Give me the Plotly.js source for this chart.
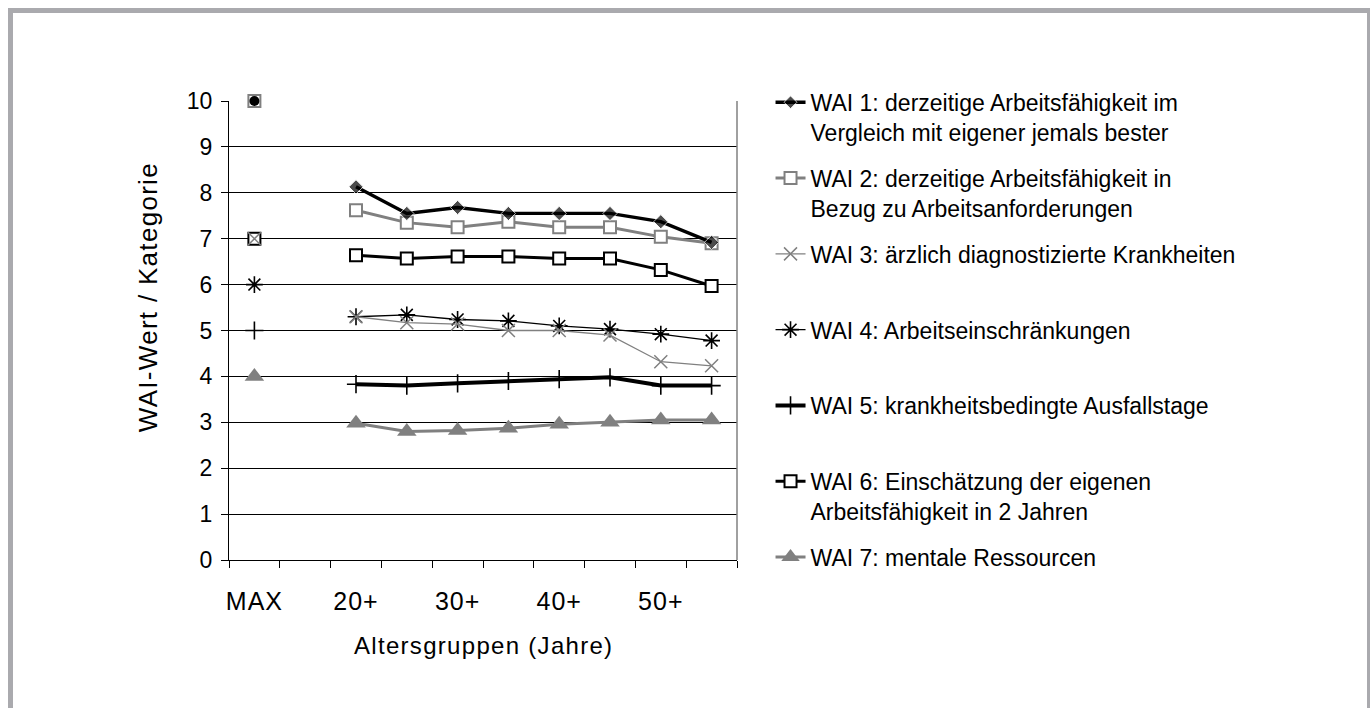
<!DOCTYPE html>
<html>
<head>
<meta charset="utf-8">
<script src="https://cdn.plot.ly/plotly-3.0.1.min.js"></script>
<style>
html,body{margin:0;padding:0;background:#fff;overflow:hidden;}
#chart{width:1370px;height:708px;position:absolute;left:0;top:0;}
#frame{position:absolute;left:8px;top:8px;width:1354px;height:720px;border:5px solid #aaaaae;pointer-events:none;}
.annotation-text{letter-spacing:1.3px;}
.xtick text{letter-spacing:1px;}
</style>
</head>
<body>
<div id="chart"></div>
<div id="frame"></div>
<script>
// Category slots of the x axis (Excel-style, every second label shown)
const categories = ['MAX', '', '20+', '', '30+', '', '40+', '', '50+', ''];

const seriesNames = [
  'WAI 1: derzeitige Arbeitsfähigkeit im<br>Vergleich mit eigener jemals bester',
  'WAI 2: derzeitige Arbeitsfähigkeit in<br>Bezug zu Arbeitsanforderungen',
  'WAI 3: ärzlich diagnostizierte Krankheiten',
  'WAI 4: Arbeitseinschränkungen',
  'WAI 5: krankheitsbedingte Ausfallstage',
  'WAI 6: Einschätzung der eigenen<br>Arbeitsfähigkeit in 2 Jahren',
  'WAI 7: mentale Ressourcen'
];

const wai1 = [10, null, 8.13, 7.55, 7.68, 7.55, 7.55, 7.55, 7.37, 6.92];
const wai2 = [10, null, 7.62, 7.35, 7.25, 7.37, 7.25, 7.25, 7.04, 6.90];
const wai3 = [7,  null, 5.30, 5.17, 5.14, 5.00, 5.00, 4.90, 4.32, 4.23];
const wai4 = [6,  null, 5.30, 5.34, 5.24, 5.21, 5.10, 5.03, 4.92, 4.78];
const wai5 = [5,  null, 3.83, 3.80, 3.85, 3.90, 3.94, 3.98, 3.80, 3.80];
const wai6 = [7,  null, 6.64, 6.57, 6.61, 6.61, 6.57, 6.57, 6.32, 5.97];
const wai7 = [4,  null, 2.98, 2.80, 2.82, 2.87, 2.96, 3.00, 3.05, 3.05];

const xs = categories.map((c, i) => i + 1);
const GREY = '#808080';
const FONT = '"Liberation Sans", Arial, sans-serif';

function legendName(n) {
  return n.indexOf('<br>') >= 0 ? n : n + '<br>\u00a0';
}

function mk(idx, y, line, marker) {
  return {
    type: 'scatter', mode: 'lines+markers', x: xs, y: y,
    name: legendName(seriesNames[idx]), legendgroup: 'g' + idx, legendrank: idx + 1,
    connectgaps: false, cliponaxis: false,
    line: line, marker: marker
  };
}

const sizes1 = wai1.map((v, i) => i === 0 ? 0 : 11);

const t1 = mk(0, wai1, {color: '#000', width: 3.3},
  {symbol: 'diamond', size: sizes1, color: '#000'});
const t2 = mk(1, wai2, {color: GREY, width: 3},
  {symbol: 'square', size: 12, color: '#fff', line: {color: GREY, width: 2}});
const t3 = mk(2, wai3, {color: GREY, width: 1.3},
  {symbol: 'x-thin-open', size: 13, color: GREY, line: {color: GREY, width: 1.5}});
const t4 = mk(3, wai4, {color: '#000', width: 1.3},
  {symbol: 'asterisk-open', size: 14, color: '#000', line: {color: '#000', width: 1.6}});
const t5 = mk(4, wai5, {color: '#000', width: 4},
  {symbol: 'cross-thin-open', size: 13, color: '#000', line: {color: '#000', width: 1.6}});
const t6 = mk(5, wai6, {color: '#000', width: 3},
  {symbol: 'square', size: 12, color: '#fff', line: {color: '#000', width: 2}});
const t7 = mk(6, wai7, {color: GREY, width: 3},
  {symbol: 'triangle-up', size: 17, color: GREY});

// MAX point of WAI 1 drawn as a round dot, as in the original
const t1max = {
  type: 'scatter', mode: 'markers', x: [xs[0]], y: [wai1[0]],
  showlegend: false, cliponaxis: false, hoverinfo: 'skip',
  marker: {symbol: 'circle', size: 10, color: '#000'}
};

const data = [t7, t6, t5, t4, t3, t2, t1, t1max];

const layout = {
  width: 1370, height: 708,
  margin: {l: 229, r: 633, t: 101, b: 148, pad: 0},
  paper_bgcolor: 'rgba(0,0,0,0)', plot_bgcolor: '#fff',
  font: {family: FONT, color: '#000', size: 22},
  showlegend: true,
  legend: {
    x: 1.066, xanchor: 'left', y: 1.044, yanchor: 'top',
    traceorder: 'grouped', tracegroupgap: 13, valign: 'top', maxheight: 1000,
    font: {family: FONT, size: 23, color: '#000'},
    bgcolor: 'rgba(0,0,0,0)', borderwidth: 0
  },
  xaxis: {
    range: [0.5, 10.5], tickmode: 'array', tickvals: xs, ticktext: categories,
    ticks: '', showgrid: false, zeroline: false,
    showline: true, linecolor: '#000', linewidth: 1,
    tickfont: {family: FONT, size: 25}, ticklabelstandoff: 19,
    minor: {ticks: 'outside', tickmode: 'linear', tick0: 0.5, dtick: 1,
            ticklen: 7, tickwidth: 1, tickcolor: '#000', showgrid: false}
  },
  yaxis: {
    range: [0, 10], tickmode: 'linear', tick0: 0, dtick: 1,
    ticks: 'outside', ticklen: 7, tickwidth: 1, tickcolor: '#000',
    showline: true, linecolor: '#000', linewidth: 1,
    showgrid: true, gridcolor: '#000', gridwidth: 1, zeroline: false,
    tickfont: {family: FONT, size: 23}, ticklabelstandoff: 4
  },
  shapes: [
    {type: 'line', xref: 'paper', yref: 'paper', x0: 1, x1: 1, y0: 0, y1: 1,
     line: {color: GREY, width: 1.5}}
  ],
  annotations: [
    {text: 'Altersgruppen (Jahre)', xref: 'paper', yref: 'paper',
     x: 0.5, y: -0.187, xanchor: 'center', yanchor: 'middle', showarrow: false,
     font: {family: FONT, size: 24, color: '#000'}},
    {text: 'WAI-Wert / Kategorie', xref: 'paper', yref: 'paper',
     x: -0.159, y: 0.573, xanchor: 'center', yanchor: 'middle', showarrow: false,
     textangle: -90, font: {family: FONT, size: 26, color: '#000'}}
  ]
};

Plotly.newPlot('chart', data, layout, {displayModeBar: false, staticPlot: true});
</script>
</body>
</html>
